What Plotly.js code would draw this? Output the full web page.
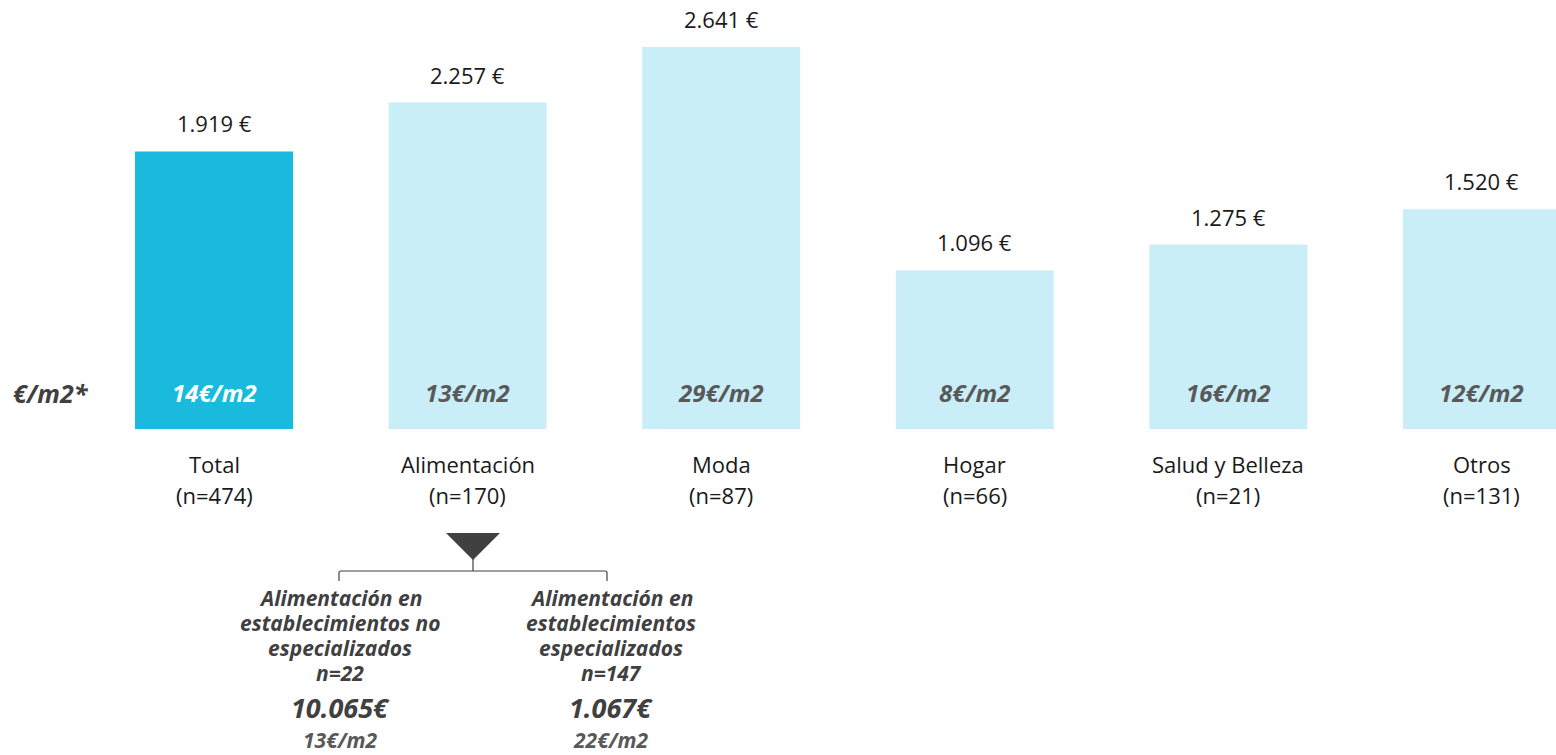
<!DOCTYPE html>
<html>
<head>
<meta charset="utf-8">
<script src="https://cdn.plot.ly/plotly-3.0.1.min.js"></script>
<style>html,body{margin:0;padding:0;background:#fff;}#chart{width:1556px;height:755px;}</style>
</head>
<body>
<div id="chart"></div>
<script>
// ---- data ----
const categories = ["Total", "Alimentación", "Moda", "Hogar", "Salud y Belleza", "Otros"];
const sampleSizes = ["n=474", "n=170", "n=87", "n=66", "n=21", "n=131"];
const values = [1919, 2257, 2641, 1096, 1275, 1520];
const valueLabels = ["1.919 €", "2.257 €", "2.641 €", "1.096 €", "1.275 €", "1.520 €"];
const perM2Labels = ["14€/m2", "13€/m2", "29€/m2", "8€/m2", "16€/m2", "12€/m2"];
const subGroupLines = [
  ["Alimentación en", "establecimientos no", "especializados", "n=22"],
  ["Alimentación en", "establecimientos", "especializados", "n=147"]
];
const subValues = ["10.065€", "1.067€"];
const subPerM2 = ["13€/m2", "22€/m2"];

// ---- style ----
const W = 1556, H = 755;
const FONT = "Open Sans, Noto Sans, sans-serif";
const darkBlue = "#1ABADF", lightBlue = "#C9EEF8";
const px = x => x / W, py = y => 1 - y / H;

const barColors = categories.map((c, i) => i === 0 ? darkBlue : lightBlue);

const trace = {
  type: "bar",
  x: categories,
  y: values,
  width: 0.623,
  marker: {color: barColors, line: {width: 0}},
  hoverinfo: "skip"
};

const ann = [];
categories.forEach((c, i) => {
  ann.push({x: c, y: values[i], xref: "x", yref: "y", text: valueLabels[i], showarrow: false,
    yanchor: "bottom", yshift: 11, font: {family: FONT, size: 22, color: "#1a1a1a"}});
  ann.push({x: c, y: 0, xref: "x", yref: "y", text: perM2Labels[i], showarrow: false,
    yanchor: "middle", yshift: 36,
    font: {family: FONT, size: 24, color: i === 0 ? "#ffffff" : "#595959", weight: "bold", style: "italic"}});
  ann.push({x: c, y: 0, xref: "x", yref: "y", text: c, showarrow: false,
    yanchor: "middle", yshift: -35, font: {family: FONT, size: 22, color: "#1a1a1a"}});
  ann.push({x: c, y: 0, xref: "x", yref: "y", text: "(" + sampleSizes[i] + ")", showarrow: false,
    yanchor: "middle", yshift: -66, font: {family: FONT, size: 22, color: "#1a1a1a"}});
});
ann.push({x: px(51), y: py(393), xref: "paper", yref: "paper", text: "€/m2*", showarrow: false,
  xanchor: "center", yanchor: "middle",
  font: {family: FONT, size: 25, color: "#404040", weight: "bold", style: "italic"}});

const subX = [340, 611];
const lineY = [598, 623, 648, 673];
subGroupLines.forEach((lines, i) => {
  lines.forEach((t, j) => {
    ann.push({x: px(subX[i]), y: py(lineY[j]), xref: "paper", yref: "paper", text: t, showarrow: false,
      xanchor: "center", yanchor: "middle",
      font: {family: FONT, size: 21, color: "#404040", weight: "bold", style: "italic"}});
  });
  ann.push({x: px(subX[i]), y: py(707), xref: "paper", yref: "paper", text: subValues[i], showarrow: false,
    xanchor: "center", yanchor: "middle",
    font: {family: FONT, size: 27, color: "#404040", weight: "bold", style: "italic"}});
  ann.push({x: px(subX[i]), y: py(740), xref: "paper", yref: "paper", text: subPerM2[i], showarrow: false,
    xanchor: "center", yanchor: "middle",
    font: {family: FONT, size: 21, color: "#595959", weight: "bold", style: "italic"}});
});

const P = (x, y) => px(x) + "," + py(y);
const shapes = [
  {type: "path", xref: "paper", yref: "paper",
   path: "M" + P(446, 533) + " L" + P(500, 533) + " L" + P(473, 560) + " Z",
   fillcolor: "#404040", line: {width: 0}},
  {type: "path", xref: "paper", yref: "paper",
   path: "M" + P(339, 581) + " L" + P(339, 573) + " Q" + P(339, 571) + " " + P(341, 571) +
         " L" + P(605, 571) + " Q" + P(607, 571) + " " + P(607, 573) + " L" + P(607, 581),
   line: {color: "#404040", width: 1.2}},
  {type: "line", xref: "paper", yref: "paper", x0: px(473), x1: px(473), y0: py(558), y1: py(571),
   line: {color: "#404040", width: 1.2}}
];

const layout = {
  width: W, height: H,
  margin: {l: 0, r: 0, t: 0, b: 0, pad: 0},
  paper_bgcolor: "#ffffff", plot_bgcolor: "#ffffff",
  showlegend: false,
  xaxis: {type: "category", range: [-0.844, 5.292], visible: false, fixedrange: true},
  yaxis: {range: [-2254, 2966], visible: false, fixedrange: true},
  annotations: ann,
  shapes: shapes,
  font: {family: FONT}
};

Plotly.newPlot("chart", [trace], layout, {staticPlot: true, displayModeBar: false});
</script>
</body>
</html>
